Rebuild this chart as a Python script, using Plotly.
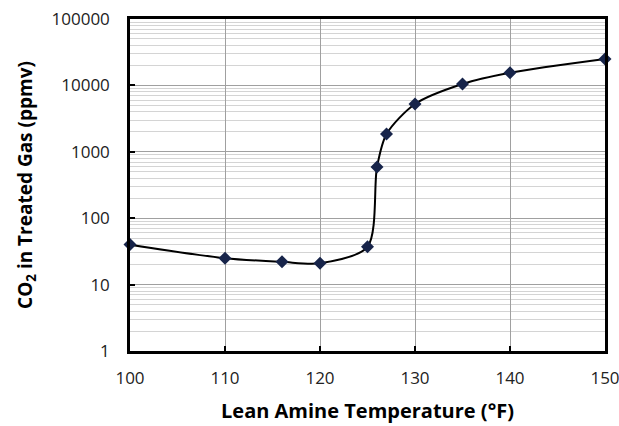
import plotly.graph_objects as go

temps = [100, 110, 116, 120, 125, 126, 127, 130, 135, 140, 150]
co2_ppmv = [40, 25, 22, 21, 37, 590, 1850, 5250, 10500, 15500, 25000]

x_ticks = [100, 110, 120, 130, 140, 150]
y_ticks = [1, 10, 100, 1000, 10000, 100000]
y_tick_labels = ["1", "10", "100", "1000", "10000", "100000"]

fig = go.Figure()
fig.add_trace(go.Scatter(
    x=temps, y=co2_ppmv, mode="lines+markers",
    line=dict(color="black", width=2, shape="spline", smoothing=0.8),
    marker=dict(symbol="diamond", size=10, color="#17244a"),
    showlegend=False, cliponaxis=False,
))

font_family = "Open Sans, Liberation Sans, sans-serif"
fig.update_layout(
    width=619, height=426,
    margin=dict(l=130, r=14, t=19, b=75),
    paper_bgcolor="white", plot_bgcolor="white",
    font=dict(family=font_family, color="black"),
)
fig.update_xaxes(
    range=[100, 150], tickvals=x_ticks, automargin=False,
    showgrid=True, gridcolor="#a0a0a0", gridwidth=1,
    showline=True, linecolor="black", linewidth=2.5, mirror=True,
    ticks="inside", ticklen=5, tickwidth=2, tickcolor="black",
    tickfont=dict(size=17, color="#222"), ticklabelstandoff=10,
    ticklabeloverflow="allow",
    title=dict(text="<b>Lean Amine Temperature (°F)</b>", font=dict(size=20), standoff=16),
    zeroline=False,
)
fig.update_yaxes(
    type="log", range=[0, 5], tickvals=y_ticks, ticktext=y_tick_labels, automargin=False,
    showgrid=True, gridcolor="#a0a0a0", gridwidth=1,
    minor=dict(dtick="D1", showgrid=True, gridcolor="#d4d4d4", gridwidth=1, ticks=""),
    showline=True, linecolor="black", linewidth=2.5, mirror=True,
    ticks="inside", ticklen=5, tickwidth=2, tickcolor="black",
    tickfont=dict(size=17, color="#222"), ticklabelstandoff=14,
    ticklabeloverflow="allow",
    title=dict(text="<b>CO<sub>2</sub> in Treated Gas (ppmv)</b>", font=dict(size=19), standoff=14),
    zeroline=False,
)

fig.write_html(
    "out.html",
    config={"displayModeBar": False},
    post_script="document.body.style.margin='0px';document.body.style.overflow='hidden';",
)
